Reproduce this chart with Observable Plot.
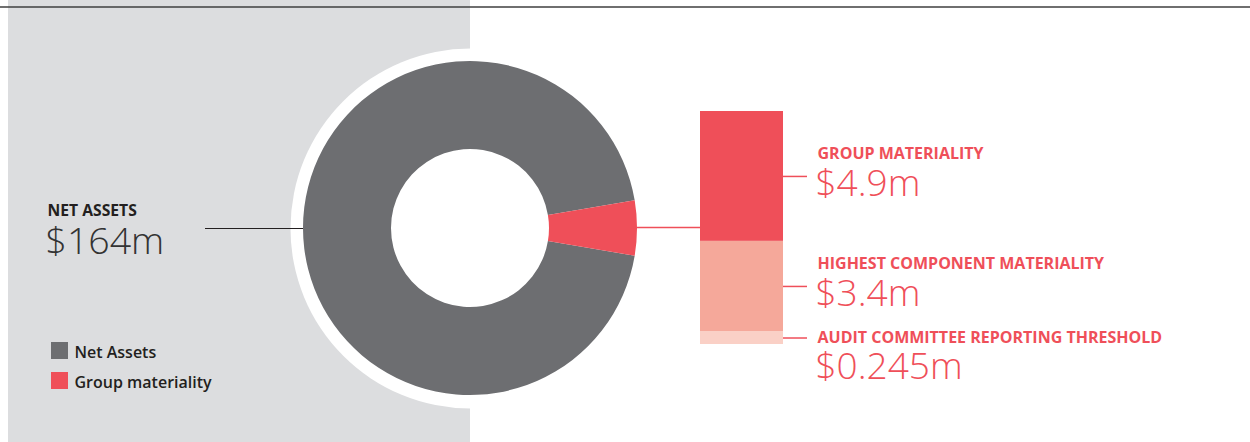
<!DOCTYPE html>
<html><head><meta charset="utf-8">
<script src="https://cdn.jsdelivr.net/npm/d3@7"></script>
<script src="https://cdn.jsdelivr.net/npm/@observablehq/plot@0.6"></script>
<style>html,body{margin:0;padding:0;background:#fff;overflow:hidden} svg{display:block}</style>
</head><body><div id="chart"></div>
<script>
// ---- data ----
const pieLabels = ["Net Assets", "Group materiality"];
const pieShares = [94.7, 5.3];            // share of the ring as drawn (%)
const pieColors = ["#6d6e71", "#ef4f59"];
const netAssetsTitle = "NET ASSETS";
const netAssetsValue = "$164m";

const barNames = ["GROUP MATERIALITY", "HIGHEST COMPONENT MATERIALITY", "AUDIT COMMITTEE REPORTING THRESHOLD"];
const barValueLabels = ["$4.9m", "$3.4m", "$0.245m"];
const barLengths = [4.9, 3.4, 0.49];      // lengths as drawn ($m); thin band drawn wider than scale
const barColors = ["#ef4f59", "#f5a89a", "#fad0c6"];

// ---- layout ----
const W = 1250, H = 442;
const cx = 470, cy = 228, rOuter = 167, rInner = 79, rHalo = 180;
const red = "#ef4f59", ink = "#231f20";
const font = "'Open Sans', sans-serif";

const barScale = Plot.scale({y: {type: "linear", domain: [0, d3.sum(barLengths)], range: [111, 344]}});
const barRows = barNames.map((name, i) => {
  const base = d3.sum(barLengths.slice(0, i));
  const y1 = barScale.apply(base), y2 = barScale.apply(base + barLengths[i]);
  return {name, value: barValueLabels[i], color: barColors[i], y1, y2, mid: (y1 + y2) / 2};
});
let prev = -Infinity;
barRows.forEach(d => { d.nameY = Math.max(d.mid - 17, prev + 37); d.valueY = d.nameY + 36.5; prev = d.valueY; });

const pieRows = pieLabels.map((label, i) => ({label, share: pieShares[i], color: pieColors[i]}));
const legendRows = pieRows.map((d, i) => ({...d, i}));

function donut(index, scales) {
  const redAngle = 2 * Math.PI * pieShares[1] / d3.sum(pieShares);
  const start = Math.PI / 2 + redAngle / 2;
  const arcs = d3.pie().sort(null).value(d => d.share).startAngle(start).endAngle(start + 2 * Math.PI)(pieRows);
  const arc = d3.arc().innerRadius(rInner).outerRadius(rOuter);
  const g = d3.create("svg:g").attr("transform", `translate(${scales.x(cx)},${scales.y(cy)})`);
  g.selectAll("path").data(arcs).join("path").attr("d", arc).attr("fill", d => d.data.color);
  return g.node();
}

const chart = Plot.plot({
  width: W, height: H, margin: 0,
  x: {domain: [0, W], range: [0, W], axis: null},
  y: {domain: [0, H], range: [0, H], axis: null},
  color: {type: "identity"},
  style: {fontFamily: font, background: "#fff"},
  marks: [
    Plot.rect([0], {x1: () => 8, x2: () => cx, y1: () => 0, y2: () => H, fill: "#dcdddf"}),
    Plot.ruleY([6.5], {x1: 0, x2: W, stroke: "#3f3f3f", strokeWidth: 1.6}),
    Plot.dot([0], {x: () => cx, y: () => cy, r: rHalo, fill: "#fff", stroke: "none"}),
    donut,
    Plot.ruleY([cy], {x1: 205, x2: cx - rOuter, stroke: ink, strokeWidth: 1.2}),
    Plot.ruleY([cy - 1], {x1: cx + rOuter, x2: 700, stroke: red, strokeWidth: 1.5}),
    Plot.rect(barRows, {x1: () => 700, x2: () => 783, y1: "y1", y2: "y2", fill: "color"}),
    Plot.ruleY(barRows, {y: "mid", x1: 783, x2: 807, stroke: red, strokeWidth: 1.5}),
    Plot.text(barRows, {x: () => 817, y: "nameY", text: "name", textAnchor: "start", lineAnchor: "bottom",
      fill: red, fontSize: 16, fontWeight: 700, fontFamily: font}),
    Plot.text(barRows, {x: () => 815, y: "valueY", text: "value", textAnchor: "start", lineAnchor: "bottom",
      fill: red, fontSize: 37, fontWeight: 300, fontFamily: font}),
    Plot.text([netAssetsTitle], {x: () => 47, y: () => 215, text: d => d, textAnchor: "start", lineAnchor: "bottom",
      fill: ink, fontSize: 15.7, fontWeight: 700, fontFamily: font}),
    Plot.text([netAssetsValue], {x: () => 45, y: () => 253, text: d => d, textAnchor: "start", lineAnchor: "bottom",
      fill: "#333333", fontSize: 37.5, fontWeight: 300, fontFamily: font}),
    Plot.rect(legendRows, {x1: () => 51, x2: () => 68, y1: d => 342 + d.i * 30, y2: d => 359 + d.i * 30, fill: "color"}),
    Plot.text(legendRows, {x: () => 74, y: d => 357 + d.i * 30, text: "label", textAnchor: "start", lineAnchor: "bottom",
      fill: ink, fontSize: 16, fontWeight: 600, fontFamily: font})
  ]
});
document.getElementById("chart").appendChild(chart);
</script>
</body></html>
